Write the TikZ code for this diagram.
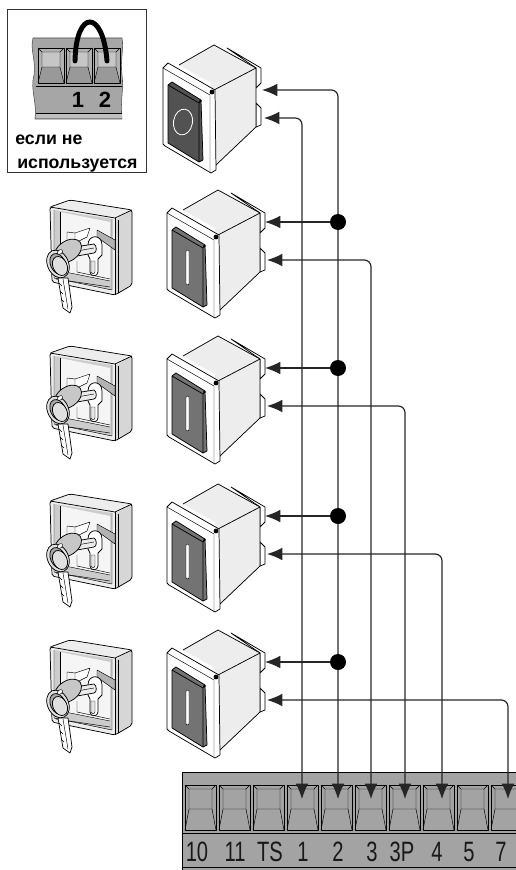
\documentclass[tikz,border=0pt]{standalone}
\usepackage{fontspec}
\usetikzlibrary{arrows.meta}
\setmainfont{Liberation Sans}
\newfontfamily\narrowfont[FakeStretch=0.72]{Liberation Sans}
\tikzset{
 wire/.style={line width=0.9pt,black!85,rounded corners=5pt},
 tips/.style={{Latex[length=11.5pt,width=9.5pt]}-{Latex[length=11.5pt,width=9.5pt]}},
 tip/.style={-{Latex[length=11.5pt,width=9.5pt]}},
 dot/.style={circle,fill=black,inner sep=0pt,minimum size=12pt},
 ln/.style={line width=0.55pt,black,line join=round},
 thin/.style={line width=0.35pt,black,line join=round},
 lab/.style={inner sep=0pt,font=\narrowfont\fontsize{21}{22}\selectfont,text=black!90},
 cell/.pic={
  \draw[thin] (0,0) rectangle (31,45);
  \draw[thin] (4,4)--(27,4)--(27,24)--(31,45) (4,4)--(4,24)--(0,45) (4,24)--(27,24) (0,0)--(4,4) (31,0)--(27,4);
 },
 minicell/.pic={
  \fill[gray!60] (0,0) rectangle (26,35);
  \fill[gray!80] (4,19) -- (22,19) -- (26,35) -- (0,35) -- cycle;
  \fill[gray!45] (4,4) rectangle (22,19);
  \draw[ln] (0,0) rectangle (26,35);
  \draw[thin] (4,4)--(22,4)--(22,19)--(26,35) (4,4)--(4,19)--(0,35) (4,19)--(22,19) (0,0)--(4,4) (26,0)--(22,4);
 },
 btnface/.pic={
  \fill[white] (0,5) -- (5,0) -- (52,27) -- (53,107) -- (48,110) -- (0,81) -- cycle;
  \draw[ln] (0,5) -- (5,0) -- (52,27) -- (53,107) -- (48,110) -- (2,83) -- (0,81) -- cycle;
  \draw[thin] (0,5) -- (47,32) -- (47,110);
  \fill[black] (49,29) circle (2.4);
  \fill[facecol] (5,22) -- (9,19) -- (38,37) -- (40,97) -- (36,99) -- (5,80) -- cycle;
  \draw[ln] (5,22) -- (9,19) -- (38,37) -- (40,97) -- (36,99) -- (5,80) -- cycle;
  \draw[ln] (5,22) -- (36,40) -- (38,37) (36,40) -- (36,99);
  \fill[black] (37.5,38) circle (1.4);
 },
 btnbody/.pic={
  \draw[ln,fill=white] (64,-15) -- (98,5) -- (98,20) -- (93,25) -- (93,5) -- cycle;
  \draw[ln,fill=white] (93,40) -- (98,45) -- (98,62) -- (93,64) -- cycle;
  \fill[black!7] (16,2) -- (51,-18) -- (93,5) -- (93,64) -- (53,102) -- (48,20) -- cycle;
  \draw[ln] (16,2) -- (51,-18) -- (93,5);
  \draw[ln] (51,27) -- (93,5) -- (93,64) -- (53,102);
 },
 keysw/.pic={
  % casing
  \fill[black!7] (0,6) -- (20,-1) -- (82,9) -- (82,84) -- (65,94) -- (2,81) -- cycle;
  \fill[black!16] (65,19) -- (82,9) -- (82,84) -- (65,94) -- cycle;
  \fill[black!20] (4,9) -- (62,18) -- (62,89) -- (4,77) -- cycle;
  \fill[black!4] (10,11) -- (60,21) -- (60,80) -- (10,70) -- cycle;
  \draw[ln,rounded corners=1.5pt] (0,6) -- (20,-1) -- (82,9) -- (82,84) -- (65,94) -- (2,81) -- cycle;
  \draw[ln] (0,6) -- (65,17) -- (82,9);
  \draw[ln] (65,17) -- (65,94);
  \draw[thin] (68,19) -- (68,92);
  \draw[thin] (4,9) -- (4,77) -- (62,89) -- (62,18);
  \draw[thin] (10,11) -- (10,70);
  \draw[thin] (10,70) -- (60,80);
  \draw[thin] (6,78) -- (60,86);
  % plate behind the cylinder
  \draw[thin,fill=white] (25,32) -- (40,27) -- (37,36) -- (25,42) -- cycle;
  \draw[thin] (17,31) -- (25,32) (17,31) -- (17,45);
  \draw[thin] (27,60) -- (27,71) -- (60,78);
  \draw[thin,fill=black!30] (47,29) -- (65,39) -- (65,49) -- (47,36) -- cycle;
  % cylinder
  \draw[ln,fill=white] (38,44) .. controls (38,33) and (52,33) .. (52,44) -- (52,54) -- (48,58) -- (48,71) .. controls (48,76) and (40,76) .. (40,71) -- (40,58) -- (38,54) -- cycle;
  \draw[thin,fill=black!10] (41,60) -- (45,60) -- (45,71) .. controls (45,73) and (41,73) .. (41,71) -- cycle;
  % key
  \draw[ln,fill=black!8] (25,46) -- (44,43) .. controls (47,44) and (47,52) .. (44,52) -- (27,55) -- cycle;
  \draw[thin] (27,50) -- (44,47);
  \draw[ln,fill=white] (8,77) -- (18,77) -- (22,106) -- (20,112) -- (13,107) -- cycle;
  \draw[thin] (13,78) -- (18,108);
  \draw[thin] (9,82) -- (12,85) (10,90) -- (13,93) (11,98) -- (14,101);
  \draw[ln,fill=black!22,rotate around={35:(18,50)}] (18,50) ellipse (15 and 10);
  \draw[ln,fill=black!12,rotate around={25:(8,63)}] (8,63) ellipse (10.5 and 14.5);
  \draw[ln,fill=black!35,rotate around={25:(8,63)}] (8,63) ellipse (7.5 and 11);
  \draw[ln,fill=black!12,rotate around={25:(10,65)}] (10,65) ellipse (7 and 10);
  \draw[thin,fill=white,rotate around={35:(10,51)}] (10,51) ellipse (3 and 2);
 }
}
\begin{document}
\begin{tikzpicture}[x=0.75pt,y=-0.75pt,every pic/.style={x=0.75pt,y=-0.75pt}]
\useasboundingbox (0,0) rectangle (516,870);
% inset
\draw[line width=0.6pt,black!80] (7,9) rectangle (146,172);
\path[fill=gray!70,draw=black!70,line width=0.4pt] (33,38) -- (122,38) .. controls (124,50) and (120,60) .. (122,75) .. controls (124,90) and (120,100) .. (122,119) -- (35,119) .. controls (37,100) and (30,90) .. (34,75) .. controls (36,60) and (30,50) .. (33,38) -- cycle;
\fill[gray!50] (36,113) rectangle (122,118);
\draw[thin] (36,113) -- (122,113);
\draw[ln] (36,86) -- (122,86);
\pic at (38,48) {minicell};
\pic at (66,48) {minicell};
\pic at (94,48) {minicell};
\draw[line width=3.7pt,black,line cap=round] (75,61) .. controls (76,9) and (103,9) .. (107,61);
\node[inner sep=0pt,font=\bfseries\fontsize{16.5}{17}\selectfont] (n1) at (78,100) {1};
\node[inner sep=0pt,font=\bfseries\fontsize{16.5}{17}\selectfont] (n2) at (105,100) {2};
\node[inner sep=0pt,anchor=base west,font=\bfseries\fontsize{13.3}{15}\selectfont] (t1) at (15,145) {если не};
\node[inner sep=0pt,anchor=base west,font=\bfseries\fontsize{13.3}{15}\selectfont] (t2) at (17,168) {используется};
% buttons
\foreach \bx/\by/\fc in {163/63/68,167/208/55,167/354/55,167/502/55,167/648/55}{
  \colorlet{facecol}{black!\fc}
  \pic at (\bx,\by) {btnbody};
  \pic at (\bx,\by) {btnface};
}
\draw[white,line width=0.6pt,rotate around={-10:(183,122)}] (183,122) ellipse (9.5 and 13);
\foreach \by in {208,354,502,648}{
  \draw[thin,fill=white,rounded corners=1pt] (186,\by+42) rectangle (189,\by+77);
}
% key switches
\foreach \ky in {201,347,495,641}{
  \pic at (50,\ky) {keysw};
}
% terminal
\fill[gray!72] (182,772) rectangle (516,870);
\draw[line width=0.6pt] (516,772) -- (182,772) -- (182,870);
\draw[line width=0.6pt] (182,833) -- (516,833);
\draw[line width=0.6pt] (182,867) -- (516,867);
\foreach \x in {185,219,253,287,321,355,389,423,457,491}{
  \pic at (\x,785) {cell};
}
\node[lab] (l10) at (197,852) {10};
\node[lab] (l11) at (235,852) {11};
\node[lab] (lts) at (270,852) {TS};
\node[lab] (l1) at (303,852) {1};
\node[lab] (l2) at (338,852) {2};
\node[lab] (l3) at (372,852) {3};
\node[lab] (l3p) at (402,852) {3P};
\node[lab] (l4) at (437,852) {4};
\node[lab] (l5) at (469,852) {5};
\node[lab] (l7) at (501,852) {7};
% wire anchors
\coordinate (t1a) at (302,799); \coordinate (t2a) at (338,799); \coordinate (t3a) at (371,799);
\coordinate (t3p) at (405,799); \coordinate (t4a) at (442,799); \coordinate (t7a) at (508,799);
\coordinate (b1u) at (262,90); \coordinate (b1l) at (264,118);
\draw[wire,tips] (b1l) -- (t1a |- b1l) -- (t1a);
\draw[wire,tips] (b1u) -- (t2a |- b1u) -- (t2a);
\foreach \y/\xt/\yy in {222/t3a/260,368/t3p/406,516/t4a/554,662/t7a/700}{
  \node[dot] (d\y) at (338,\y) {};
  \coordinate (bu\y) at (265,\y);
  \coordinate (bl\y) at (267,\yy);
  \draw[wire,tip] (d\y) -- (bu\y);
  \draw[wire,tips] (bl\y) -- (\xt |- bl\y) -- (\xt);
}
\end{tikzpicture}
\end{document}
